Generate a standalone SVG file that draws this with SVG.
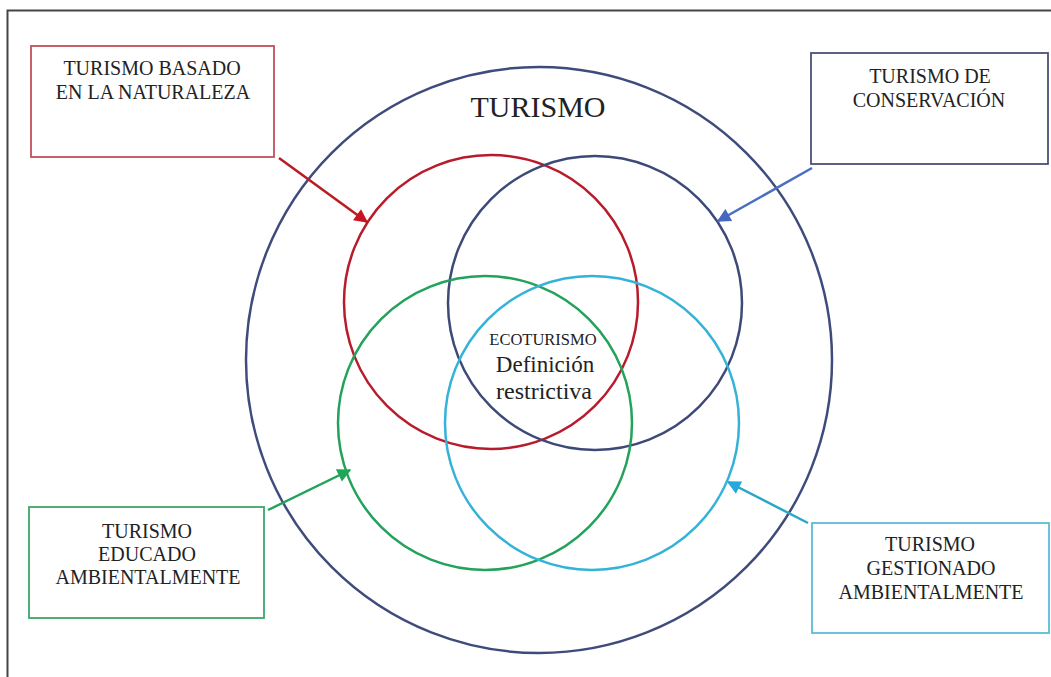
<svg xmlns="http://www.w3.org/2000/svg" width="1051" height="677" viewBox="0 0 1051 677">
<defs>
<style>
.t{font-family:"Liberation Serif","Times New Roman",serif;fill:#222;text-anchor:middle}
.bt{font-size:20px}
.c{fill:none;stroke-width:2.5}
.b{fill:#fff;stroke-width:1.8}
.a{stroke-width:2.5;fill:none}
</style>
<marker id="mr" viewBox="0 0 10 10" refX="9" refY="5" markerWidth="6" markerHeight="5.5" markerUnits="strokeWidth" orient="auto"><path d="M0,0L10,5L0,10z" fill="#c8141e"/></marker>
<marker id="mb" viewBox="0 0 10 10" refX="9" refY="5" markerWidth="6" markerHeight="5.5" markerUnits="strokeWidth" orient="auto"><path d="M0,0L10,5L0,10z" fill="#4468c0"/></marker>
<marker id="mg" viewBox="0 0 10 10" refX="9" refY="5" markerWidth="6" markerHeight="5.5" markerUnits="strokeWidth" orient="auto"><path d="M0,0L10,5L0,10z" fill="#1fa556"/></marker>
<marker id="mc" viewBox="0 0 10 10" refX="9" refY="5" markerWidth="6" markerHeight="5.5" markerUnits="strokeWidth" orient="auto"><path d="M0,0L10,5L0,10z" fill="#25a8e0"/></marker>
</defs>
<rect width="1051" height="677" fill="#fff"/>
<path d="M7.5,677V10.5H1051" fill="none" stroke="#444" stroke-width="2"/>
<g id="turismo">
<circle class="c" cx="539" cy="360" r="293" stroke="#3f4c7b"/>
<text class="t" x="538" y="117" font-size="30">TURISMO</text>
</g>
<g id="circle-naturaleza"><circle class="c" cx="491" cy="302" r="147" stroke="#b81c2c"/></g>
<g id="circle-conservacion"><circle class="c" cx="595" cy="303" r="147" stroke="#3d4a78"/></g>
<g id="circle-educado"><circle class="c" cx="485" cy="423" r="147" stroke="#22a25a"/></g>
<g id="circle-gestionado"><circle class="c" cx="592" cy="423" r="147" stroke="#34b2d8"/></g>
<g id="ecoturismo">
<text class="t" x="543" y="345" font-size="16.5">ECOTURISMO</text>
<text class="t" x="545" y="372" font-size="23">Definición</text>
<text class="t" x="544" y="399" font-size="24">restrictiva</text>
</g>
<g id="connectors">
<line class="a" x1="279" y1="158" x2="367" y2="222" stroke="#b81c24" marker-end="url(#mr)"/>
<line class="a" x1="812" y1="168" x2="718" y2="221" stroke="#4a6fc0" marker-end="url(#mb)"/>
<line class="a" x1="268" y1="510" x2="350" y2="470" stroke="#22a25a" marker-end="url(#mg)"/>
<line class="a" x1="808" y1="523" x2="728" y2="482" stroke="#2aa6c8" marker-end="url(#mc)"/>
</g>
<g id="box-naturaleza">
<rect class="b" x="31" y="46" width="243" height="111" stroke="#c0505c"/>
<text class="t bt" x="152" y="75">TURISMO BASADO</text>
<text class="t bt" x="153" y="99">EN LA NATURALEZA</text>
</g>
<g id="box-conservacion">
<rect class="b" x="811" y="53" width="237" height="111" stroke="#4b5078"/>
<text class="t bt" x="930" y="83">TURISMO DE</text>
<text class="t bt" x="929" y="107">CONSERVACIÓN</text>
</g>
<g id="box-educado">
<rect class="b" x="29" y="507" width="235" height="111" stroke="#3aa86a"/>
<text class="t bt" x="147" y="538">TURISMO</text>
<text class="t bt" x="147" y="561">EDUCADO</text>
<text class="t bt" x="148" y="584">AMBIENTALMENTE</text>
</g>
<g id="box-gestionado">
<rect class="b" x="812" y="523" width="237" height="110" stroke="#5dbcd6"/>
<text class="t bt" x="930" y="551">TURISMO</text>
<text class="t bt" x="931" y="575">GESTIONADO</text>
<text class="t bt" x="931" y="599">AMBIENTALMENTE</text>
</g>
</svg>
